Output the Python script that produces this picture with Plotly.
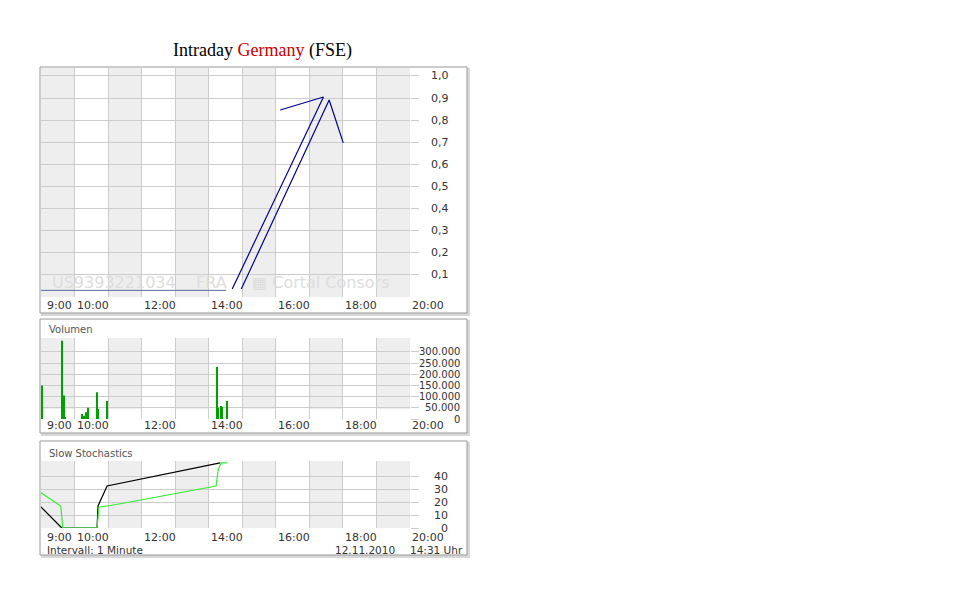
import plotly.graph_objects as go

# ---- data (hours of day) ----
price_flat_t = [8.45, 13.97]
price_flat_v = [0.03, 0.03]
price_t = [15.58, 16.87, 14.15, None, 14.42, 17.04, 17.46]
price_v = [0.846, 0.905, 0.036, None, 0.036, 0.891, 0.697]

vol_t = [8.48, 9.07, 9.10, 9.13, 9.16, 9.67, 9.73, 9.79, 9.85, 10.12, 10.15, 10.42, 13.70, 13.73, 13.82, 13.85, 14.0]
vol_v = [150000, 350000, 8000, 105000, 5000, 22000, 15000, 30000, 50000, 120000, 45000, 80000, 232000, 50000, 58000, 55000, 80000]

stoch_k_t = [8.42, 9.07, 10.12, 10.15, 10.42, 13.79]
stoch_k_v = [17.2, 0, 0, 17.2, 32.8, 50.8]
stoch_d_t = [8.42, 9.04, 9.10, 10.12, 10.18, 10.45, 13.67, 13.73, 13.82, 14.0]
stoch_d_v = [28.1, 17.2, 0, 0, 16.4, 17.2, 32.8, 45.3, 50.8, 50.8]

x_label_vals = [9, 10, 12, 14, 16, 18, 20]
x_label_text = ["9:00", "10:00", "12:00", "14:00", "16:00", "18:00", "20:00"]
price_ticks = [0.1, 0.2, 0.3, 0.4, 0.5, 0.6, 0.7, 0.8, 0.9, 1.0]
price_tick_text = ["0,1", "0,2", "0,3", "0,4", "0,5", "0,6", "0,7", "0,8", "0,9", "1,0"]
vol_ticks = [0, 50000, 100000, 150000, 200000, 250000, 300000]
vol_tick_text = ["0", "50.000", "100.000", "150.000", "200.000", "250.000", "300.000"]
stoch_ticks = [0, 10, 20, 30, 40]
stoch_tick_text = ["0", "10", "20", "30", "40"]
band_starts = [8.45, 10.45, 12.45, 14.45, 16.45, 18.45]

OFF = 8  # browser body margin
W, H = 960 - OFF, 600 - OFF
def px(xp): return (xp - OFF) / W
def py(yp): return 1 - (yp - OFF) / H

XMIN, XMAX = 8.45, 19.45
X0P, X1P = 41, 410
def hx(h): return px(X0P + (h - XMIN) / (XMAX - XMIN) * (X1P - X0P))

FONT = "DejaVu Sans"
fig = go.Figure()

fig.add_trace(go.Scatter(x=price_flat_t, y=price_flat_v, mode="lines", line=dict(color="#5a6aa0", width=1), xaxis="x", yaxis="y"))
fig.add_trace(go.Scatter(x=price_t, y=price_v, mode="lines", line=dict(color="#000099", width=1.2), connectgaps=False, xaxis="x", yaxis="y"))
fig.add_trace(go.Bar(x=vol_t, y=vol_v, width=0.035, marker=dict(color="#00a000", line=dict(width=0)), xaxis="x2", yaxis="y2"))
fig.add_trace(go.Scatter(x=stoch_k_t, y=stoch_k_v, mode="lines", line=dict(color="#000000", width=1.2), xaxis="x3", yaxis="y3"))
fig.add_trace(go.Scatter(x=stoch_d_t, y=stoch_d_v, mode="lines", line=dict(color="#33ee33", width=1.2), xaxis="x3", yaxis="y3"))

xgrid = [9.45 + i for i in range(11)]
xa = dict(range=[XMIN, XMAX], domain=[px(X0P), px(X1P)], tickvals=xgrid, showticklabels=False,
          showgrid=True, gridcolor="#cccccc", zeroline=False, showline=False, fixedrange=True)
ya = dict(showticklabels=False, side="right", ticks="outside", ticklen=8, tickcolor="#cccccc",
          gridcolor="#cccccc", zeroline=False)
fig.update_layout(
    width=W, height=H, margin=dict(l=0, r=0, t=0, b=0),
    paper_bgcolor="white", plot_bgcolor="rgba(0,0,0,0)", showlegend=False,
    xaxis=dict(xa, anchor="y"), xaxis2=dict(xa, anchor="y2"), xaxis3=dict(xa, anchor="y3"),
    yaxis=dict(ya, range=[0, 1.036], domain=[py(297), py(68)], tickvals=price_ticks, anchor="x"),
    yaxis2=dict(ya, range=[0, 362000], domain=[py(419), py(338)], tickvals=vol_ticks, anchor="x2"),
    yaxis3=dict(ya, range=[0, 52.3], domain=[py(528), py(461)], tickvals=stoch_ticks, anchor="x3"),
)

shapes = []
for (y0, y1) in [(67, 313), (319, 433), (441, 555)]:
    shapes.append(dict(type="rect", xref="paper", yref="paper", x0=px(42), x1=px(469), y0=py(y1 + 2), y1=py(y0 + 2),
                       line=dict(color="#d8d8d8", width=2), fillcolor="#d8d8d8", layer="below"))
    shapes.append(dict(type="rect", xref="paper", yref="paper", x0=px(40), x1=px(467), y0=py(y1), y1=py(y0),
                       line=dict(color="#999999", width=1), fillcolor="white", layer="below"))
for b in band_starts:
    shapes.append(dict(type="rect", xref="x", yref="paper", x0=b, x1=b + 1, y0=py(297), y1=py(68),
                       fillcolor="#eeeeee", line=dict(width=0), layer="below"))
    shapes.append(dict(type="rect", xref="x2", yref="y2", x0=b, x1=b + 1, y0=45000, y1=362000,
                       fillcolor="#eeeeee", line=dict(width=0), layer="below"))
    shapes.append(dict(type="rect", xref="x3", yref="y3", x0=b, x1=b + 1, y0=0, y1=52.3,
                       fillcolor="#eeeeee", line=dict(width=0), layer="below"))
fig.update_layout(shapes=shapes)

ann = []
tf = dict(family=FONT, size=11, color="#333333")
sf = dict(family=FONT, size=10.5, color="#333333")
vf = dict(family=FONT, size=10, color="#333333")
def A(**k):
    k.setdefault("showarrow", False)
    k.setdefault("xanchor", "center")
    k.setdefault("yanchor", "middle")
    ann.append(k)

for ylab in [305, 426, 537]:
    for v, t in zip(x_label_vals, x_label_text):
        A(x=hx(v), xref="paper", y=py(ylab), yref="paper", text=t, font=tf)
for v, t in zip(price_ticks, price_tick_text):
    A(x=px(451), xref="paper", y=v, yref="y", text=t, font=tf, xanchor="right")
for v, t in zip(vol_ticks, vol_tick_text):
    A(x=px(462), xref="paper", y=v, yref="y2", text=t, font=vf, xanchor="right")
for v, t in zip(stoch_ticks, stoch_tick_text):
    A(x=px(450), xref="paper", y=v, yref="y3", text=t, font=tf, xanchor="right")
A(x=px(262), y=py(51), xref="paper", yref="paper",
  text="Intraday <span style='color:#cc0000'>Germany</span> (FSE)",
  font=dict(family="Liberation Serif", size=18, color="black"))
A(x=px(47), y=py(329), xref="paper", yref="paper", xanchor="left", text="Volumen",
  font=dict(family=FONT, size=10, color="#555555"))
A(x=px(47), y=py(453), xref="paper", yref="paper", xanchor="left", text="Slow Stochastics",
  font=dict(family=FONT, size=10, color="#555555"))
A(x=px(45), y=py(550), xref="paper", yref="paper", xanchor="left", text="Intervall: 1 Minute", font=sf)
A(x=px(397), y=py(550), xref="paper", yref="paper", xanchor="right", text="12.11.2010", font=sf)
A(x=px(465), y=py(550), xref="paper", yref="paper", xanchor="right", text="14:31 Uhr", font=sf)
A(x=px(50), y=py(283), xref="paper", yref="paper", xanchor="left",
  text="US9393221034&nbsp;&nbsp;&nbsp;&nbsp;FRA", font=dict(family=FONT, size=16, color="#dddddd"))
A(x=px(250), y=py(283), xref="paper", yref="paper", xanchor="left",
  text="▦ Cortal Consors", font=dict(family=FONT, size=16, color="#dddddd"))
fig.update_layout(annotations=ann)
fig.write_html("out.html")
